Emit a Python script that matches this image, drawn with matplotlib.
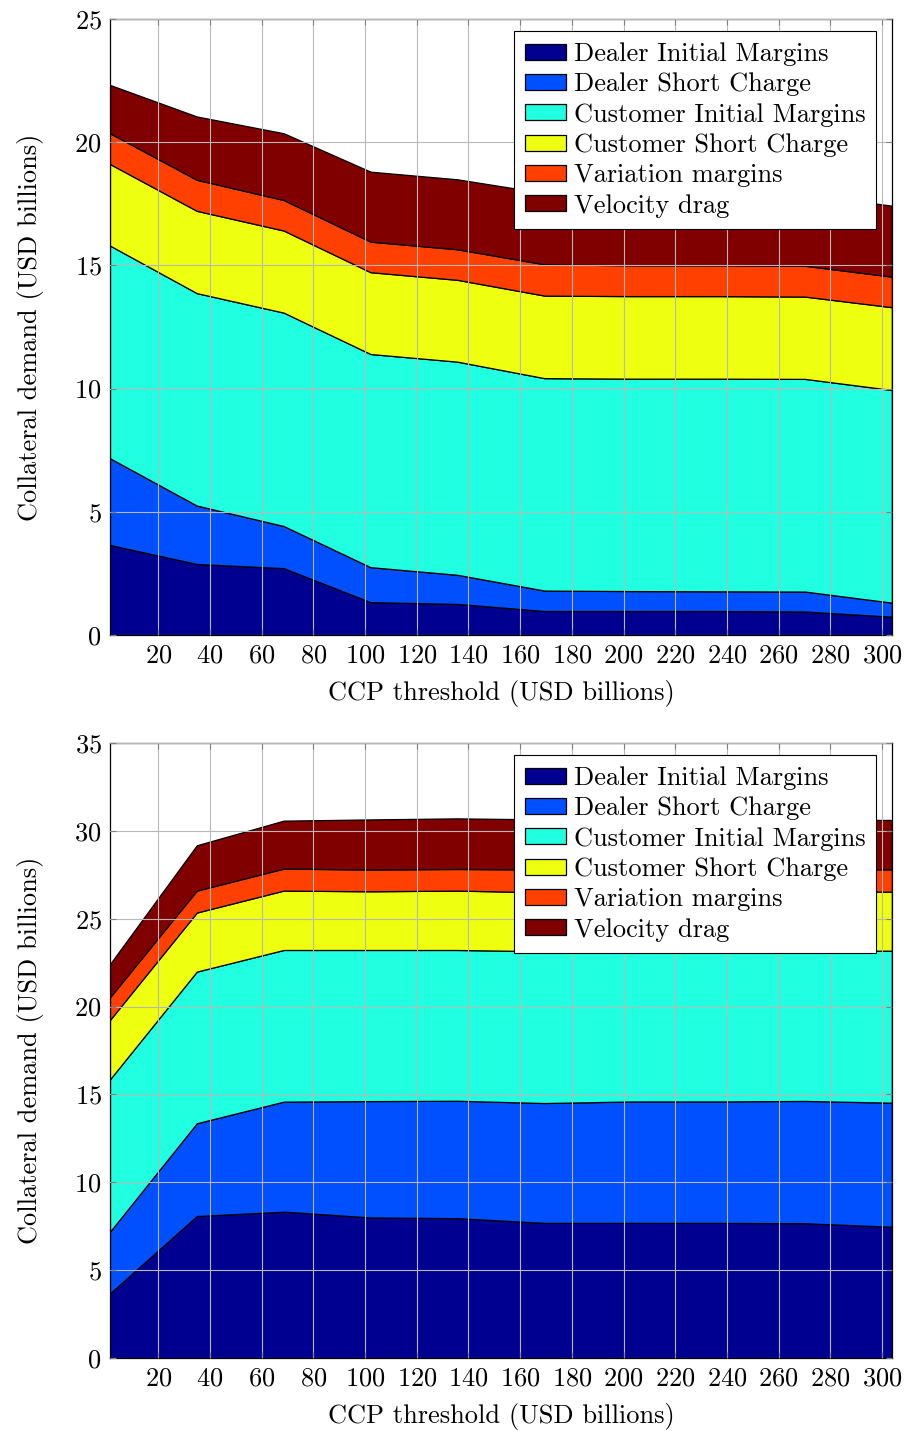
#Stacked area charts of collateral demand against the CCP threshold
#Two panels: the top one and the bottom one share the x values and the layers

import numpy as np
import matplotlib
matplotlib.use("Agg")
import matplotlib.pyplot as plt

#Fonts - LaTeX look
plt.rcParams['font.family'] = 'serif'
plt.rcParams['font.serif'] = ['cmr10', 'DejaVu Serif']
plt.rcParams['mathtext.fontset'] = 'cm'
plt.rcParams['axes.formatter.use_mathtext'] = True

#Data
threshold = [1.3, 34.9, 68.5, 102.1, 135.7, 169.4, 203.0, 236.6, 270.2, 303.8]
labels = ["Dealer Initial Margins", "Dealer Short Charge", "Customer Initial Margins",
          "Customer Short Charge", "Variation margins", "Velocity drag"]

#top panel
top_dealer_im = [3.65, 2.88, 2.71, 1.33, 1.26, 0.97, 0.97, 0.97, 0.95, 0.74]
top_dealer_sc = [3.52, 2.37, 1.71, 1.42, 1.18, 0.83, 0.81, 0.80, 0.81, 0.57]
top_customer_im = [8.63, 8.62, 8.66, 8.65, 8.65, 8.62, 8.62, 8.63, 8.63, 8.63]
top_customer_sc = [3.31, 3.34, 3.33, 3.32, 3.32, 3.35, 3.35, 3.35, 3.34, 3.36]
top_variation = [1.25, 1.26, 1.24, 1.24, 1.24, 1.27, 1.25, 1.25, 1.25, 1.24]
top_velocity = [1.96, 2.57, 2.71, 2.84, 2.84, 2.89, 2.90, 2.90, 2.90, 2.88]

#bottom panel
bot_dealer_im = [3.68, 8.08, 8.33, 8.00, 7.96, 7.69, 7.69, 7.69, 7.67, 7.47]
bot_dealer_sc = [3.51, 5.28, 6.26, 6.62, 6.68, 6.82, 6.91, 6.91, 6.96, 7.06]
bot_customer_im = [8.67, 8.63, 8.63, 8.60, 8.58, 8.64, 8.58, 8.58, 8.55, 8.65]
bot_customer_sc = [3.38, 3.36, 3.38, 3.34, 3.38, 3.35, 3.36, 3.36, 3.36, 3.36]
bot_variation = [1.29, 1.25, 1.25, 1.24, 1.23, 1.30, 1.26, 1.26, 1.27, 1.27]
bot_velocity = [1.89, 2.58, 2.73, 2.85, 2.88, 2.85, 2.85, 2.85, 2.82, 2.81]

x_ticks = list(range(20, 301, 20))
top_y_ticks = list(range(0, 26, 5))
bot_y_ticks = list(range(0, 36, 5))

colors = ["#000090", "#0050FF", "#20FFE0", "#EFFF10", "#FF4000", "#800000"]
fs = 19

fig = plt.figure(figsize=(9.05, 14.31), dpi=100)
ax_top = fig.add_axes([0.1215, 0.5563, 0.864, 0.4305])
ax_bot = fig.add_axes([0.1215, 0.0510, 0.864, 0.4298])

panels = [
    (ax_top, [top_dealer_im, top_dealer_sc, top_customer_im, top_customer_sc, top_variation, top_velocity], top_y_ticks),
    (ax_bot, [bot_dealer_im, bot_dealer_sc, bot_customer_im, bot_customer_sc, bot_variation, bot_velocity], bot_y_ticks),
]

for ax, layers, yt in panels:
    ax.stackplot(threshold, *layers, labels=labels, colors=colors,
                 edgecolor="black", linewidth=0.9)
    ax.set_xlim(threshold[0], threshold[-1])
    ax.set_ylim(yt[0], yt[-1])
    ax.set_xticks(x_ticks)
    ax.set_yticks(yt)
    ax.set_axisbelow(False)
    ax.grid(True, color="#b8b8b8", linewidth=0.8)
    ax.tick_params(direction="in", length=4, color="#808080", labelsize=fs,
                   top=True, right=True, pad=6)
    for s in ax.spines.values():
        s.set_linewidth(0.9)
    ax.set_xlabel("CCP threshold (USD billions)", fontsize=fs, labelpad=9)
    ax.set_ylabel("Collateral demand (USD billions)", fontsize=fs, labelpad=22)
    leg = ax.legend(loc="upper right", bbox_to_anchor=(0.98, 0.98), fontsize=fs,
                    frameon=True, fancybox=False, framealpha=1, edgecolor="black",
                    handlelength=1.55, handleheight=0.55, handletextpad=0.3,
                    labelspacing=0.25, borderpad=0.42, borderaxespad=0)
    leg.get_frame().set_linewidth(0.8)

fig.savefig("out.png", dpi=100)
